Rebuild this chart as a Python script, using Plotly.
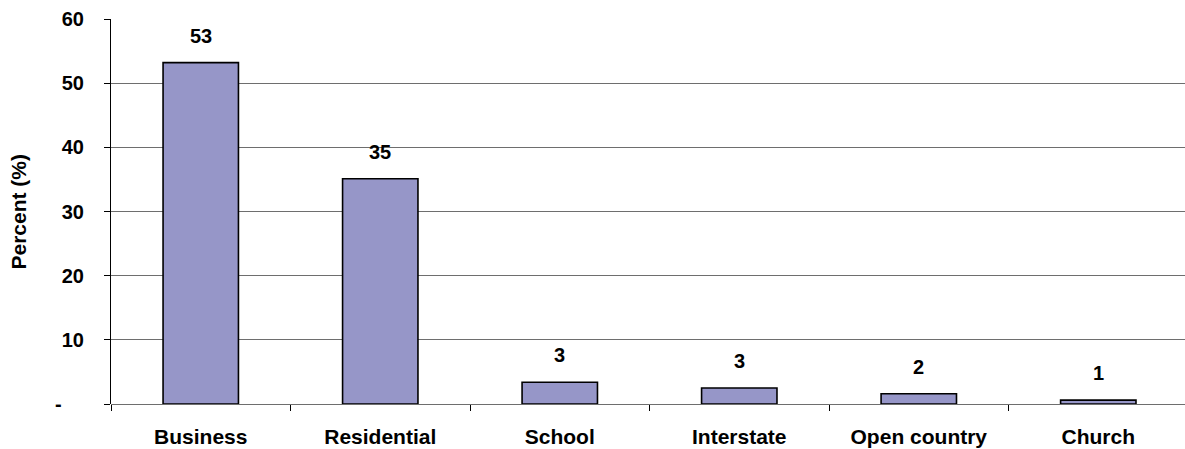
import math
import plotly.graph_objects as go

# Share of cases by location type
categories = ["Business", "Residential", "School", "Interstate", "Open country", "Church"]
percent = [53.2, 35.1, 3.4, 2.5, 1.6, 0.6]

y_ticks = [0, 10, 20, 30, 40, 50, 60]
y_tick_text = ["-\u00a0\u00a0\u00a0\u00a0", "10", "20", "30", "40", "50", "60"]

FONT = "Liberation Sans, Arial, sans-serif"
BAR_FILL = "#9696C8"
GRID = "#6e6e6e"

fig = go.Figure()
fig.add_trace(go.Bar(
    x=categories,
    y=percent,
    width=0.42,
    marker=dict(color=BAR_FILL, line=dict(color="#000000", width=1.6)),
    hoverinfo="x+y",
))

# value labels above each bar, rounded half-up to whole percent
for cat, val in zip(categories, percent):
    fig.add_annotation(
        x=cat, y=val, xref="x", yref="y",
        text=f"<b>{math.floor(val + 0.5)}</b>",
        showarrow=False, yanchor="bottom", yshift=14,
        font=dict(family=FONT, size=20, color="#000000"),
    )

# rotated axis title
fig.add_annotation(
    x=(18 - 111) / 1074, y=0.5, xref="paper", yref="paper",
    text="<b>Percent (%)</b>", textangle=-90, showarrow=False,
    xanchor="center", yanchor="middle",
    font=dict(family=FONT, size=21, color="#000000"),
)

fig.update_layout(
    width=1185, height=449,
    margin=dict(l=111, r=0, t=19, b=45),
    paper_bgcolor="#ffffff", plot_bgcolor="#ffffff",
    showlegend=False,
    bargap=0.58,
    font=dict(family=FONT, size=20, color="#000000", weight="bold"),
)

fig.update_xaxes(
    type="category",
    range=[-0.5, 5.483],
    tickson="boundaries",
    ticks="outside", ticklen=6, tickcolor="#000000", tickwidth=1,
    showline=False, showgrid=False, zeroline=False,
    tickfont=dict(family=FONT, size=21, color="#000000", weight="bold"),
    ticklabelstandoff=18,
)

fig.update_yaxes(
    range=[0, 60],
    tickvals=y_ticks, ticktext=y_tick_text,
    ticks="outside", ticklen=6, tickcolor="#000000", tickwidth=1,
    showline=True, linecolor="#000000", linewidth=1.2,
    showgrid=True, gridcolor=GRID, gridwidth=1.2,
    zeroline=True, zerolinecolor=GRID, zerolinewidth=1.4,
    tickfont=dict(family=FONT, size=20, color="#000000", weight="bold"),
    ticklabelstandoff=16,
)

fig.write_html("out.html")
